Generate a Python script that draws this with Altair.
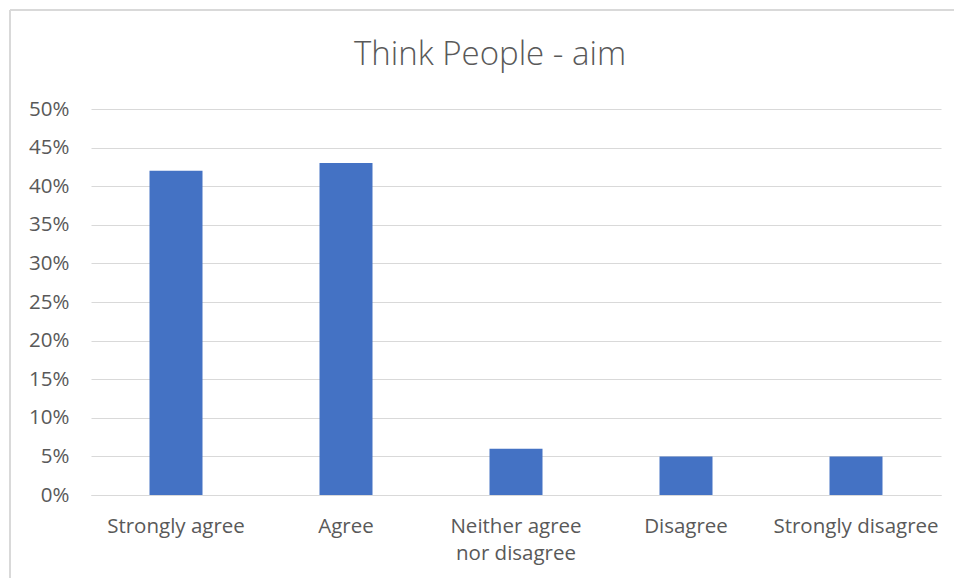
import altair as alt
import pandas as pd

categories = ["Strongly agree", "Agree", "Neither agree nor disagree", "Disagree", "Strongly disagree"]
shares = [0.42, 0.43, 0.06, 0.05, 0.05]
chart_title = "Think People - aim"

df = pd.DataFrame({"response": categories, "share": shares})

label_expr = (
    "datum.value == 'Neither agree nor disagree' ? ['Neither agree', 'nor disagree'] : datum.value"
)

FONT = "Open Sans"
GREY = "#595959"
LINE = "#d9d9d9"

bars = alt.Chart(df).mark_bar(color="#4472C4", width=53).encode(
    x=alt.X(
        "response:N",
        sort=categories,
        title=None,
        scale=alt.Scale(paddingInner=0, paddingOuter=0),
        axis=alt.Axis(
            labelAngle=0,
            labelExpr=label_expr,
            labelFont=FONT,
            labelFontSize=20.5,
            labelColor=GREY,
            labelPadding=21,
            labelLineHeight=27,
            ticks=False,
            domainColor=LINE,
            domainWidth=1,
            grid=False,
        ),
    ),
    y=alt.Y(
        "share:Q",
        title=None,
        scale=alt.Scale(domain=[0, 0.5]),
        axis=alt.Axis(
            format=".0%",
            values=[i / 20 for i in range(11)],
            labelFont=FONT,
            labelFontSize=20.5,
            labelColor=GREY,
            labelPadding=22,
            ticks=False,
            domain=False,
            gridColor=LINE,
            gridWidth=1,
        ),
    ),
)

# chart heading, centred on the outer frame
heading = alt.Chart(pd.DataFrame({"t": [chart_title]})).mark_text(
    font=FONT, fontSize=33, fontWeight=300, color=GREY, align="center", baseline="middle"
).encode(text="t:N", x=alt.value(399), y=alt.value(-54))

# outer frame of the chart (left and top edges)
frame_left = alt.Chart(df).mark_rule(color=LINE, strokeWidth=1.5).encode(
    x=alt.value(-81), y=alt.value(-99), y2=alt.value(480)
)
frame_top = alt.Chart(df).mark_rule(color=LINE, strokeWidth=1.5).encode(
    x=alt.value(-81), x2=alt.value(870), y=alt.value(-99)
)

chart = (
    alt.layer(frame_left, frame_top, heading, bars)
    .properties(
        width=850,
        height=386,
        background="white",
        padding={"left": 91, "top": 109, "right": 13, "bottom": 83},
        autosize=alt.AutoSizeParams(type="none"),
    )
    .configure_view(strokeWidth=0, stroke=None)
)

chart.save("out.html", embed_options={"renderer": "svg", "actions": False})
